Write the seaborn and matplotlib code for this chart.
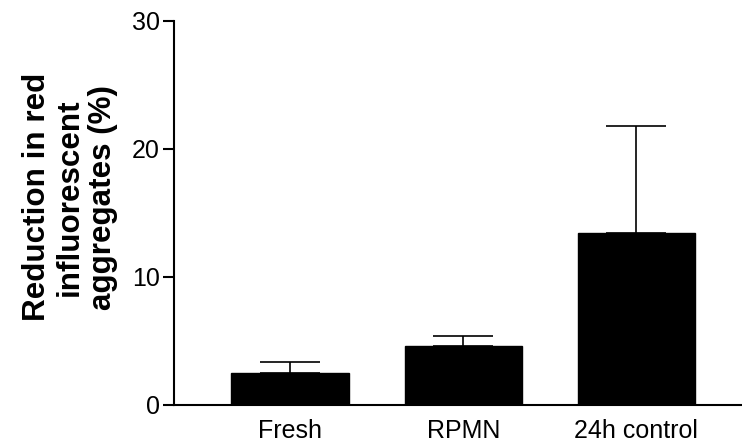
import matplotlib
matplotlib.use("Agg")
import matplotlib.pyplot as plt
import seaborn as sns
import pandas as pd

categories = ["Fresh", "RPMN", "24h control"]
means = [2.47, 4.63, 13.39]
sd_upper = [0.86, 0.75, 8.37]
y_ticks = [0, 10, 20, 30]

sns.set_style("ticks")
plt.rcParams['font.family'] = ['Liberation Sans', 'DejaVu Sans']
plt.rcParams['text.color'] = 'black'
plt.rcParams['axes.labelcolor'] = 'black'
plt.rcParams['xtick.color'] = 'black'
plt.rcParams['ytick.color'] = 'black'
plt.rcParams['axes.edgecolor'] = 'black'

df = pd.DataFrame({"group": categories, "value": means})

fig = plt.figure(figsize=(7.42, 4.47), dpi=100)
ax = fig.add_axes([174/742, 1 - 405/447, 1 - 174/742, (405 - 20.5)/447])

sns.barplot(data=df, x="group", y="value", color="black", width=0.676,
            errorbar=None, ax=ax, saturation=1, edgecolor="black")

ax.errorbar(range(len(categories)), means, yerr=[[0]*len(sd_upper), sd_upper],
            fmt="none", ecolor="black", elinewidth=1.2, capsize=21.6, capthick=1.2)

ax.set_ylim(0, 30)
ax.set_yticks(y_ticks)
ax.set_xlim(-0.67, 2.61)
for s in ["top", "right"]:
    ax.spines[s].set_visible(False)
ax.spines["left"].set_linewidth(1.5)
ax.spines["bottom"].set_linewidth(1.5)
ax.tick_params(axis="y", length=8, width=1.5, labelsize=18, pad=2)
ax.tick_params(axis="x", length=0, labelsize=18, pad=10)
ax.set_xlabel("")
ax.set_ylabel("Reduction in red\ninfluorescent\naggregates (%)", fontsize=22.6,
              fontweight="bold", linespacing=1.12)
ax.yaxis.set_label_coords(-0.099, 0.54)

fig.savefig("out.png", dpi=100)
